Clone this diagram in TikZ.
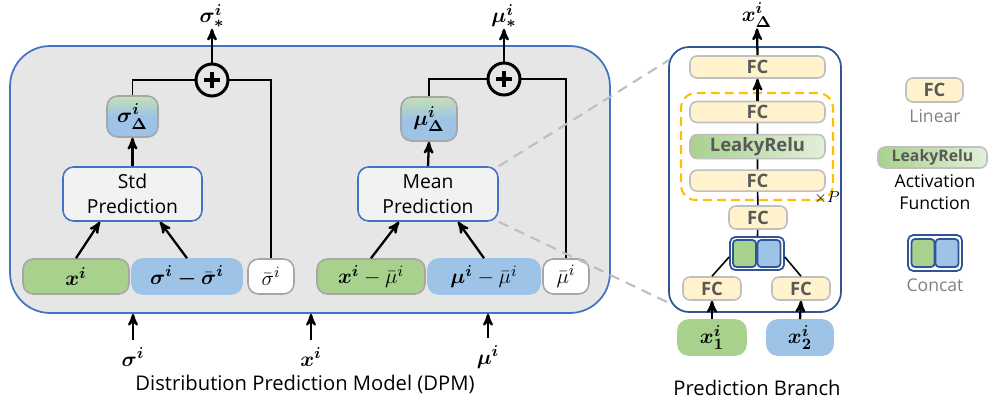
\documentclass[tikz,border=0pt]{standalone}
\usepackage{fontspec}
\setmainfont{Open Sans}
\usepackage{amsmath}
\usepackage{bm}
\usetikzlibrary{arrows,shapes,positioning,backgrounds}

\definecolor{dpmfill}{HTML}{E6E6E6}
\definecolor{dpmblue}{HTML}{4472C4}
\definecolor{darkblue}{HTML}{2F5597}
\definecolor{edgegray}{HTML}{A6A6A6}
\definecolor{boxgreen}{HTML}{A9D18E}
\definecolor{boxblue}{HTML}{9DC3E6}
\definecolor{topgreen}{HTML}{C5E0B4}
\definecolor{predfill}{HTML}{F2F2F2}
\definecolor{fcyellow}{HTML}{FFF2CC}
\definecolor{fcedge}{HTML}{BFBFBF}
\definecolor{fctext}{HTML}{595959}
\definecolor{legtext}{HTML}{808080}
\definecolor{reluright}{HTML}{E2F0D9}
\definecolor{repeatorange}{HTML}{FFC000}

\begin{document}
\begin{tikzpicture}[x=0.02cm,y=-0.02cm,>=stealth',line width=0.9pt,
    every node/.style={inner sep=0pt},
    arrow/.style={->,line width=1.3pt},
    inbox/.style={draw=edgegray,line width=0.9pt,rounded corners=6pt,minimum height=0.7cm,
                  font=\fontsize{13pt}{15pt}\selectfont},
    greenbox/.style={inbox,fill=boxgreen},
    bluebox/.style={inbox,draw=boxblue,fill=boxblue},
    whitebox/.style={inbox,fill=white,minimum width=0.92cm},
    predbox/.style={draw=dpmblue,line width=0.9pt,fill=predfill,rounded corners=6pt,
                    minimum height=1.08cm,align=center,font=\fontsize{11pt}{14pt}\selectfont},
    deltabox/.style={draw=edgegray,line width=0.9pt,rounded corners=6pt,font=\fontsize{13pt}{15pt}\selectfont,
                     top color=topgreen,bottom color=boxblue,middle color=boxblue},
    plusnode/.style={circle,draw,line width=1.7pt,minimum size=0.64cm},
    fc/.style={draw=fcedge,line width=0.9pt,fill=fcyellow,rounded corners=4pt,text=fctext,
               font=\fontsize{10.5pt}{12pt}\selectfont\bfseries,minimum height=0.44cm},
    relu/.style={fc,left color=boxgreen,right color=reluright},
    mathlabel/.style={font=\fontsize{13pt}{15pt}\selectfont},
    caption/.style={font=\fontsize{11.5pt}{14pt}\selectfont},
    legendtext/.style={font=\fontsize{10pt}{12pt}\selectfont,text=legtext},
    dimline/.style={draw=fcedge,dashed,line width=1.2pt,dash pattern=on 6pt off 4pt}]

  \useasboundingbox (0,0) rectangle (988,406);

  % distribution prediction model
  \node[draw=dpmblue,line width=1pt,fill=dpmfill,rounded corners=0.8cm,
        minimum width=12cm,minimum height=5.34cm] (dpm) at (310,179.5) {};

  % std half
  \node[greenbox,minimum width=2.12cm] (xs)     at (76,276.5)  {$\bm{x^i}$};
  \node[bluebox,minimum width=2.2cm]   (sdiff)  at (187,276.5) {$\bm{\sigma^i-\bar{\sigma}^i}$};
  \node[whitebox]                      (sbar)   at (271,276.5) {$\bar{\sigma}^i$};
  \node[predbox,minimum width=2.78cm]  (std)    at (132.5,194) {Std\\Prediction};
  \node[deltabox,minimum width=1.02cm,minimum height=0.82cm] (sdelta) at (132.5,116.5) {$\bm{\sigma^i_\Delta}$};
  \node[plusnode] (splus) at (212,80) {};
  \node[mathlabel] (sout) at (212,16) {$\bm{\sigma^i_*}$};

  % mean half
  \node[greenbox,minimum width=2.16cm] (xm)     at (371,276.5) {$\bm{x^i}-\bar{\mu}^i$};
  \node[bluebox,minimum width=2.24cm]  (mdiff)  at (484,276.5) {$\bm{\mu^i}-\bar{\mu}^i$};
  \node[whitebox]                      (mbar)   at (566,276.5) {$\bar{\mu}^i$};
  \node[predbox,minimum width=2.8cm]   (mean)   at (428,194)   {Mean\\Prediction};
  \node[deltabox,minimum width=1.12cm,minimum height=0.88cm] (mdelta) at (429,119) {$\bm{\mu^i_\Delta}$};
  \node[plusnode] (mplus) at (504,79) {};
  \node[mathlabel] (mout) at (504,16) {$\bm{\mu^i_*}$};

  \foreach \p in {splus,mplus}
    \draw[line width=2.4pt] (\p.center) +(-8,0) -- +(8,0) (\p.center) +(0,-8) -- +(0,8);

  \draw (sdelta.north) |- (splus.west);
  \draw (splus.east) -| (sbar.north);
  \draw[arrow] (splus.north) -- (sout.south);
  \draw[arrow] (std.north) -- (sdelta.south);
  \draw[arrow] (xs.north) -- ([xshift=-0.65cm]std.south);
  \draw[arrow] (sdiff.north) -- ([xshift=0.55cm]std.south);

  \draw (mdelta.north) |- (mplus.west);
  \draw (mplus.east) -| (mbar.north);
  \draw[arrow] (mplus.north) -- (mout.south);
  \draw[arrow] (mean.north) -- (mdelta.south);
  \draw[arrow] (xm.north) -- ([xshift=-0.58cm]mean.south);
  \draw[arrow] (mdiff.north) -- ([xshift=0.6cm]mean.south);

  % inputs
  \node[mathlabel] (sin) at (133,357) {$\bm{\sigma^i}$};
  \node[mathlabel] (xin) at (311,357) {$\bm{x^i}$};
  \node[mathlabel] (min) at (488,357) {$\bm{\mu^i}$};
  \foreach \n in {sin,xin,min}
    \draw[arrow] ([yshift=4pt]\n.north) -- (\n |- dpm.south);
  \node[caption] (dpmcap) at (305,384) {Distribution Prediction Model (DPM)};

  % prediction branch
  \node[draw=darkblue,line width=1pt,rounded corners=0.4cm,
        minimum width=3.44cm,minimum height=5.3cm] (branch) at (755,179.5) {};
  \node[draw=repeatorange,line width=1.2pt,dashed,dash pattern=on 5pt off 3pt,rounded corners=0.3cm,
        minimum width=3.04cm,minimum height=2.14cm] (rep) at (757,146.5) {};
  \node[font=\small\itshape] (reptimes) at (827,198) {${\times}P$};

  \node[fc,minimum width=2.7cm] (fcout) at (757.5,67) {FC};
  \node[fc,minimum width=2.7cm,minimum height=0.42cm] (fcb) at (757.5,112) {FC};
  \node[relu,minimum width=2.7cm,minimum height=0.48cm,below=0.21cm of fcb] (relu) {LeakyRelu};
  \node[fc,minimum width=2.7cm,minimum height=0.42cm,below=0.2cm of relu] (fcc) {FC};
  \node[fc,minimum width=1.16cm,minimum height=0.46cm] (fcd) at (758,217.5) {FC};
  \node[draw=darkblue,line width=1pt,fill=white,rounded corners=3pt,
        minimum width=1.08cm,minimum height=0.66cm] (cat) at (757,253.5) {};
  \node[draw=darkblue,line width=1pt,fill=boxgreen,rounded corners=2pt,
        minimum width=0.46cm,minimum height=0.54cm] (catg) at (744.5,253.5) {};
  \node[draw=darkblue,line width=1pt,fill=boxblue,rounded corners=2pt,
        minimum width=0.46cm,minimum height=0.54cm] (catb) at (769,253.5) {};
  \node[fc,minimum width=1.16cm,minimum height=0.46cm] (fcl) at (712,288.5) {FC};
  \node[fc,minimum width=1.16cm,minimum height=0.46cm] (fcr) at (801,288.5) {FC};
  \node[greenbox,draw=boxgreen,minimum width=1.36cm] (xa) at (712,337.5) {$\bm{x^i_1}$};
  \node[bluebox,minimum width=1.32cm] (xb) at (800,337.5) {$\bm{x^i_2}$};
  \node[mathlabel] (xdout) at (757,15) {$\bm{x^i_\Delta}$};

  \draw[arrow] (fcout.north) -- (xdout.south);
  \draw[arrow] (fcb.north) -- (fcout.south);
  \draw (fcb) -- (relu) (relu) -- (fcc) (fcc) -- (fcd) (fcd) -- (cat);
  \draw (fcl.north) -- ([yshift=-0.07cm]cat.west);
  \draw (fcr.north) -- ([yshift=-0.07cm]cat.east);
  \draw[arrow] (xa.north) -- (fcl.south);
  \draw[arrow] (xb.north) -- (fcr.south);
  \node[caption] (brcap) at (757,388) {Prediction Branch};

  % zoom lines
  \coordinate (zt) at (669,60);
  \coordinate (zb) at (667,302);
  \draw[dimline] (mean.north east) -- (zt);
  \draw[dimline] (mean.south east) -- (zb);

  % legend
  \node[fc,minimum width=1.14cm,minimum height=0.48cm] (legfc) at (934.5,90) {FC};
  \node[legendtext] (legfct) at (935,116) {Linear};
  \node[relu,minimum width=2.18cm,minimum height=0.42cm,font=\fontsize{9pt}{11pt}\selectfont\bfseries] (legrelu) at (932.5,157.5) {LeakyRelu};
  \node[font=\fontsize{10pt}{12.5pt}\selectfont,align=center] (legrelut) at (935,192) {Activation\\Function};
  \node[draw=darkblue,line width=1pt,fill=white,rounded corners=3pt,
        minimum width=1.08cm,minimum height=0.72cm] (legcat) at (935,253) {};
  \node[draw=darkblue,line width=1pt,fill=boxgreen,rounded corners=2pt,
        minimum width=0.46cm,minimum height=0.56cm] (legcatg) at (923,253) {};
  \node[draw=darkblue,line width=1pt,fill=boxblue,rounded corners=2pt,
        minimum width=0.46cm,minimum height=0.56cm] (legcatb) at (947,253) {};
  \node[legendtext] (legcatt) at (935,285) {Concat};
\end{tikzpicture}
\end{document}
